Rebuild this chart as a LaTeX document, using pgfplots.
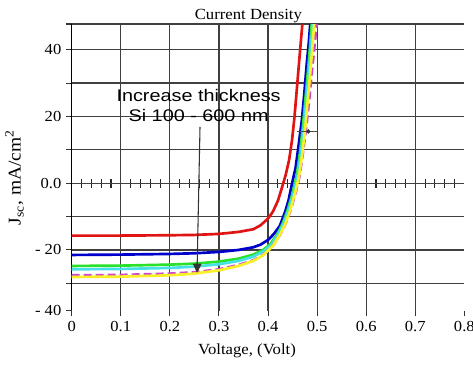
\documentclass[border=0pt]{standalone}
\usepackage{fontspec}
\setmainfont{Liberation Serif}[FakeStretch=1.08]
\newfontfamily\arial{Liberation Sans}[FakeStretch=1.18]
\usepackage{pgfplots}
\pgfplotsset{compat=1.18}
\usetikzlibrary{arrows.meta}
\definecolor{cRed}{RGB}{225,20,20}
\definecolor{cBlue}{RGB}{0,0,205}
\definecolor{cGreen}{RGB}{40,225,40}
\definecolor{cCyan}{RGB}{70,225,230}
\definecolor{cMag}{RGB}{205,70,205}
\definecolor{cYel}{RGB}{250,240,40}
\begin{document}
\begin{tikzpicture}
\path[use as bounding box] (-53.8pt,-40.7pt) rectangle (300.95pt,233pt);
% zero line with minor ticks
\begin{axis}[
  at={(0,0)}, anchor=south west,
  scale only axis, width=294.45pt, height=215pt,
  xmin=0, xmax=0.8, ymin=-38.2, ymax=47.7,
  axis x line=middle, axis y line=none,
  x axis line style={-, black!85, line width=0.9pt},
  xtick={0.02,0.04,0.06,0.08,0.12,0.14,0.16,0.18,0.22,0.24,0.26,0.28,0.32,0.34,0.36,0.38,0.42,0.44,0.46,0.48,0.52,0.54,0.56,0.58,0.62,0.64,0.66,0.68,0.72,0.74,0.76,0.78},
  xticklabels={},
  tick align=center, major tick length=6.75pt,
  tick style={black!85, line width=0.8pt},
]
\addplot[draw=none] coordinates {(0,0)};
\end{axis}
\begin{axis}[
  at={(0,0)}, anchor=south west,
  scale only axis, width=294.45pt, height=215pt,
  xmin=0, xmax=0.8, ymin=-38.2, ymax=47.7,
  axis x line=bottom, axis y line=left,
  x axis line style={draw=none},
  y axis line style={-, black, line width=1pt},
  xtick={0,0.1,0.2,0.3,0.4,0.5,0.6,0.7},
  xticklabels={0,0.1,0.2,0.3,0.4,0.5,0.6,0.7},
  extra x ticks={0.8}, extra x tick labels={0.8}, extra x tick style={grid=none},
  ytick={-30,-20,-10,0,10,20,30,40,47.7},
  yticklabels={,- 20,,0.0,,20,,40,},
  extra y ticks={-38.2}, extra y tick labels={- 40}, extra y tick style={grid=none},
  grid=major, grid style={black!75, line width=0.9pt},
  tick align=outside, major tick length=4.3pt,
  tick style={black!80, line width=0.8pt},
  ticklabel style={font=\fontsize{11.5}{13}\selectfont},
  title={Current Density},
  title style={at={(0.45,1)}, anchor=base, yshift=-2.6pt, font=\fontsize{11.6}{14}\selectfont},
  xlabel={Voltage, (Volt)},
  xlabel style={at={(0.4465,0)}, anchor=base, yshift=-33.2pt, font=\fontsize{11.6}{14}\selectfont},
  ylabel={J\textsubscript{sc}, mA/cm\textsuperscript{2}},
  ylabel style={at={(-0.13,0.4646)}, anchor=base, font=\fontsize{13.5}{15}\selectfont},
  every axis plot/.append style={line width=2pt, no markers},
]
\addplot[cRed] coordinates {(0,-15.7) (0.1,-15.7) (0.2,-15.6) (0.25,-15.5) (0.3,-15.2) (0.34,-14.6) (0.37,-13.8) (0.385,-12.6) (0.40,-10.6) (0.41,-8.5) (0.42,-5.3) (0.428,-1.5) (0.436,2.5) (0.443,7) (0.449,13) (0.454,20) (0.458,27) (0.462,34) (0.466,41) (0.47,47.7) (0.472,52)};
\addplot[cBlue] coordinates {(0,-21.5) (0.1,-21.4) (0.2,-21.2) (0.25,-21.0) (0.3,-20.6) (0.34,-20) (0.37,-19.2) (0.385,-18.4) (0.40,-17) (0.412,-15.2) (0.424,-12.8) (0.435,-8.5) (0.442,-5) (0.449,0) (0.456,4.5) (0.462,11) (0.469,19) (0.474,27) (0.479,36) (0.483,42) (0.486,47.7) (0.488,52)};
\addplot[cGreen] coordinates {(0,-24.8) (0.1,-24.7) (0.2,-24.4) (0.25,-24.1) (0.3,-23.5) (0.34,-22.6) (0.37,-21.4) (0.39,-20) (0.405,-18.2) (0.42,-15) (0.43,-12) (0.44,-8) (0.45,-3) (0.458,2) (0.465,9) (0.471,17) (0.476,25) (0.481,33) (0.485,40) (0.489,47.7) (0.491,52)};
\addplot[cCyan] coordinates {(0,-25.8) (0.1,-25.7) (0.2,-25.4) (0.25,-25.0) (0.3,-24.3) (0.34,-23.3) (0.37,-22) (0.39,-20.5) (0.407,-18.4) (0.422,-15) (0.432,-12) (0.442,-8) (0.452,-3) (0.46,2) (0.467,9) (0.473,17) (0.478,25) (0.483,33) (0.487,40) (0.491,47.7) (0.493,52)};
\addplot[cMag, dash pattern=on 6pt off 3pt] coordinates {(0,-27.6) (0.1,-27.5) (0.2,-27.1) (0.25,-26.7) (0.3,-25.8) (0.34,-24.5) (0.37,-23.1) (0.39,-21.5) (0.41,-18.7) (0.425,-15.3) (0.436,-12) (0.446,-8) (0.456,-3) (0.464,2) (0.471,9) (0.478,17) (0.484,25) (0.489,33) (0.494,40) (0.499,47.7) (0.501,52)};
\addplot[cYel] coordinates {(0,-28.1) (0.1,-28.0) (0.2,-27.6) (0.25,-27.1) (0.3,-26.1) (0.34,-24.8) (0.37,-23.3) (0.39,-21.6) (0.41,-18.8) (0.425,-15.2) (0.435,-12.2) (0.445,-8.2) (0.455,-3) (0.463,2) (0.47,9) (0.476,17) (0.481,25) (0.486,33) (0.49,40) (0.494,47.7) (0.496,52)};
% cursor marker
\addplot[black!70, line width=0.6pt] coordinates {(0.458,15.5) (0.502,15.5)};
\addplot[black!80, only marks, mark=o, mark size=1.3pt, line width=0.6pt] coordinates {(0.482,15.5)};
% annotation
\draw[black!80, line width=0.8pt, -{Triangle[length=7pt, width=6.5pt]}] (axis cs:0.2614,16.9) -- (axis cs:0.2553,-26.9);
\node[anchor=base, inner sep=0pt, font=\arial\fontsize{12.6}{15}\selectfont] at (axis cs:0.2585,24.5) {Increase thickness};
\node[anchor=base, inner sep=0pt, font=\arial\fontsize{12.6}{15}\selectfont] at (axis cs:0.2585,18.5) {Si 100 - 600 nm};
\end{axis}
\end{tikzpicture}
\end{document}
